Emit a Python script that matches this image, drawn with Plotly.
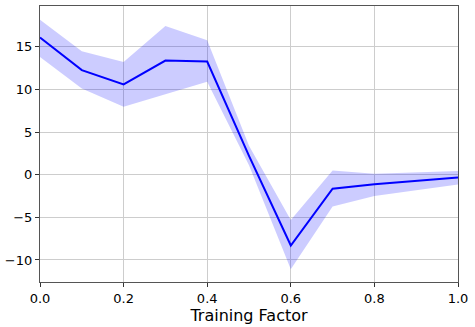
import plotly.graph_objects as go

x_vals = [0.0, 0.1, 0.2, 0.3, 0.4, 0.5, 0.6, 0.7, 0.8, 1.0]
mean_vals = [16.07, 12.25, 10.57, 13.38, 13.26, 2.2, -8.3, -1.64, -1.12, -0.33]
upper_vals = [18.17, 14.47, 13.2, 17.43, 15.75, 3.4, -5.3, 0.5, 0.1, 0.42]
lower_vals = [13.8, 10.1, 7.95, 9.44, 10.88, 1.1, -11.1, -3.74, -2.5, -1.15]
y_ticks = [-10, -5, 0, 5, 10, 15]
x_ticks = [0.0, 0.2, 0.4, 0.6, 0.8, 1.0]
x_label = "Training Factor"

fig = go.Figure()
fig.add_trace(go.Scatter(x=x_vals, y=upper_vals, mode="lines", line=dict(width=0),
                         showlegend=False, hoverinfo="skip"))
fig.add_trace(go.Scatter(x=x_vals, y=lower_vals, mode="lines", line=dict(width=0),
                         fill="tonexty", fillcolor="rgba(0,0,255,0.2)",
                         showlegend=False, hoverinfo="skip"))
fig.add_trace(go.Scatter(x=x_vals, y=mean_vals, mode="lines",
                         line=dict(color="#0000ff", width=2), showlegend=False))

axis_common = dict(
    showgrid=True, gridcolor="#cdcdcd", gridwidth=1,
    showline=True, linecolor="#555555", linewidth=1.2, mirror=True,
    ticks="outside", ticklen=4, tickcolor="#333333", tickwidth=1,
    zeroline=False,
    tickfont=dict(family="DejaVu Sans", size=13, color="#000000"),
)
fig.update_xaxes(range=[0, 1], tickvals=x_ticks, ticktext=[f"{v:.1f}" for v in x_ticks],
                 title=dict(text=x_label, font=dict(family="DejaVu Sans", size=16, color="#000000"),
                            standoff=0),
                 **axis_common)
fig.update_yaxes(range=[-12.58, 19.77], tickvals=y_ticks,
                 ticktext=[("\u2212" + str(abs(v))) if v < 0 else str(v) for v in y_ticks],
                 **axis_common)
fig.update_layout(width=475, height=327, margin=dict(l=40, r=17, t=6, b=45),
                  plot_bgcolor="white", paper_bgcolor="white")
fig.write_html("out.html", config={"displayModeBar": False},
               post_script="document.body.style.margin='0';document.body.style.overflow='hidden';")
